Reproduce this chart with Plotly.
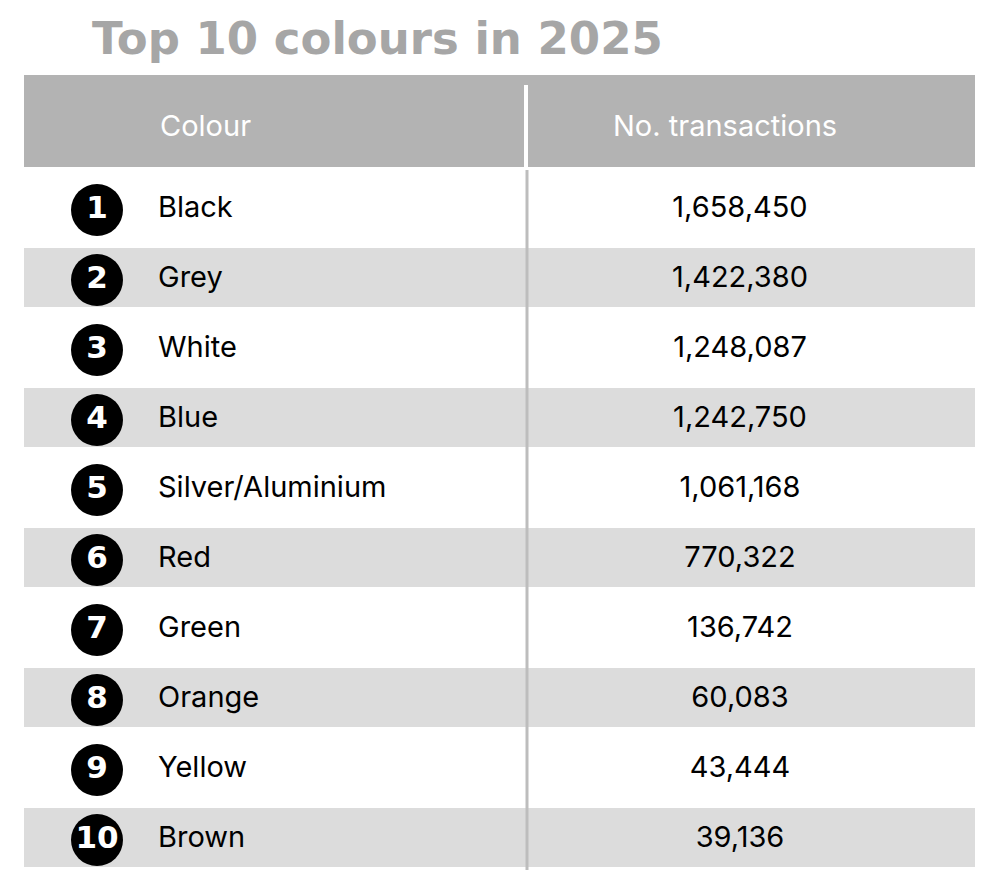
import plotly.graph_objects as go

# Table data
ranks = [1, 2, 3, 4, 5, 6, 7, 8, 9, 10]
colours = ["Black", "Grey", "White", "Blue", "Silver/Aluminium", "Red",
           "Green", "Orange", "Yellow", "Brown"]
transactions = [1658450, 1422380, 1248087, 1242750, 1061168, 770322,
                136742, 60083, 43444, 39136]
headers = ["Colour", "No. transactions"]

W, H = 995, 881
OFF = 8  # page offset of the plot in the browser
row_h = 70
first_row = 210
row_y = [first_row + i * row_h for i in range(len(ranks))]

fig = go.Figure()

# header band + alternating row bands
shapes = [dict(type="rect", x0=24, x1=975, y0=75, y1=167, fillcolor="#b3b3b3", line_width=0, layer="below"),
          dict(type="line", x0=526, x1=526, y0=85, y1=167, line=dict(color="white", width=4))]
for i, y in enumerate(row_y):
    if i % 2 == 1:
        shapes.append(dict(type="rect", x0=24, x1=975, y0=y - 32, y1=y + 27,
                           fillcolor="#dcdcdc", line_width=0, layer="below"))
shapes.append(dict(type="line", x0=527, x1=527, y0=170, y1=870, line=dict(color="#bdbdbd", width=3)))

# rank circles
fig.add_trace(go.Scatter(x=[97] * len(ranks), y=row_y, mode="markers+text",
                         marker=dict(size=52, color="black"),
                         text=[f"<b>{r}</b>" for r in ranks], textposition="middle center",
                         textfont=dict(family="DejaVu Sans", size=31, color="white"),
                         hoverinfo="skip"))
# colour names
fig.add_trace(go.Scatter(x=[158] * len(ranks), y=row_y, mode="text",
                         text=colours, textposition="middle right",
                         textfont=dict(family="Inter", size=29, color="black"),
                         hoverinfo="skip"))
# transactions
fig.add_trace(go.Scatter(x=[740] * len(ranks), y=row_y, mode="text",
                         text=[f"{v:,}" for v in transactions], textposition="middle center",
                         textfont=dict(family="Inter", size=29, color="black"),
                         hoverinfo="skip"))

annotations = [
    dict(x=90, y=38, text="<b>Top 10 colours in 2025</b>", showarrow=False, xanchor="left",
         font=dict(family="DejaVu Sans", size=45, color="#a6a6a6")),
    dict(x=158, y=125, text=headers[0], showarrow=False, xanchor="left",
         font=dict(family="Inter", size=29, color="white")),
    dict(x=725, y=125, text=headers[1], showarrow=False, xanchor="center",
         font=dict(family="Inter", size=29, color="white")),
]

fig.update_layout(width=W, height=H, margin=dict(l=0, r=0, t=0, b=0),
                  paper_bgcolor="white", plot_bgcolor="white", showlegend=False,
                  shapes=shapes, annotations=annotations,
                  xaxis=dict(range=[OFF, W + OFF], visible=False, fixedrange=True),
                  yaxis=dict(range=[H + OFF, OFF], visible=False, fixedrange=True))

fig.write_html("out.html")
